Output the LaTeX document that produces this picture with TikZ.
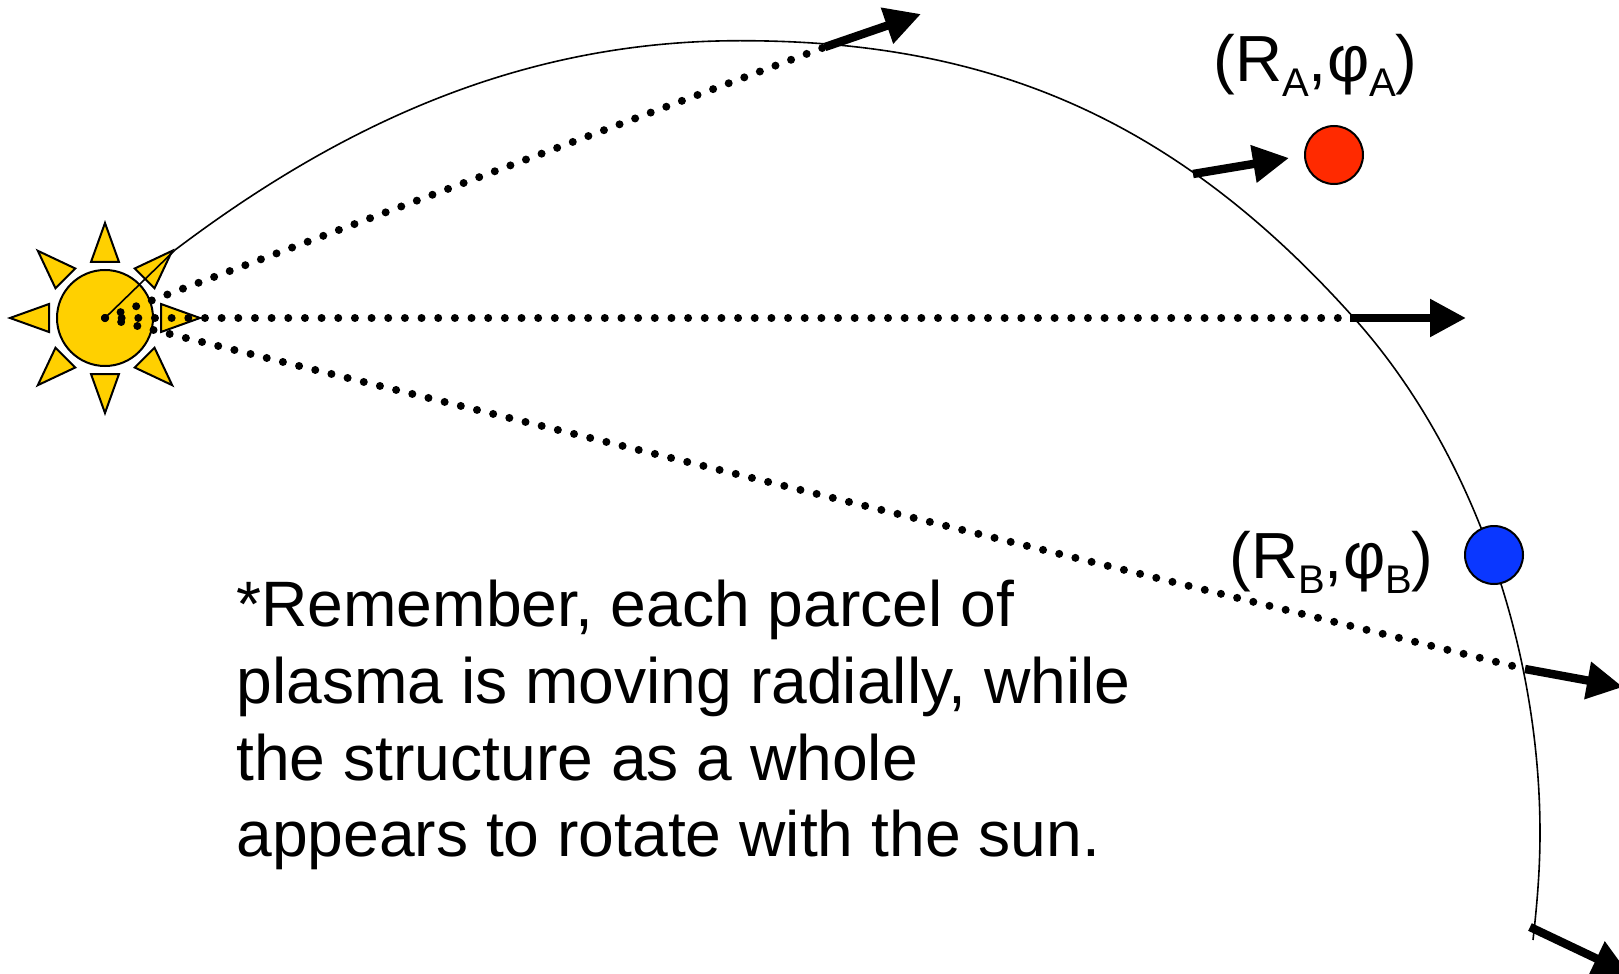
\documentclass[tikz,border=0pt]{standalone}
\usepackage{fontspec}
\setmainfont{Liberation Sans}
\usetikzlibrary{arrows.meta}
\definecolor{suncolor}{RGB}{255,208,0}
\definecolor{redcolor}{RGB}{255,42,0}
\definecolor{bluecolor}{RGB}{10,55,255}
\newcommand{\lblsub}[1]{\raisebox{-7.5pt}{\fontsize{20}{20}\selectfont #1}}
\tikzset{
  sundisc/.style={circle,draw,line width=1pt,fill=suncolor,minimum size=48pt,inner sep=0pt},
  sunray/.style={draw,line width=1pt,fill=suncolor,line join=miter},
  parcel/.style={circle,draw,line width=1pt,minimum size=29pt,inner sep=0pt},
  radial/.style={line width=4pt,line cap=round,dash pattern=on 0pt off 8.33pt},
  velocity/.style={line width=4.2pt,-{Triangle[length=18pt,width=18pt]}},
  coordlabel/.style={anchor=base west,inner sep=0pt,font=\fontsize{32.6}{38}\selectfont},
}
\begin{document}
\begin{tikzpicture}[x=0.5pt,y=-0.5pt]
  \useasboundingbox (0,0) rectangle (1619,974);
  % sun with eight rays
  \foreach \a in {0,45,...,315}
    \draw[sunray,shift={(105,318)},rotate=\a] (95,0) -- (56,-14) -- (56,14) -- cycle;
  \node[sundisc] (sun) at (105,318) {};
  % the streamline
  \draw[line width=0.8pt] (sun.center) -- (175,250) .. controls (360,110) and (540,40.7) .. (740,40.7)
    .. controls (980,40.7) and (1169,111) .. (1354,318)
    .. controls (1474,452) and (1540,650) .. (1540,833)
    .. controls (1540,870) and (1537,905) .. (1533,940);
  % feet and tips of the velocity arrows
  \coordinate (footup) at (825,47);
  \coordinate (tipup) at (921,14);
  \coordinate (foota) at (1193,174);
  \coordinate (tipa) at (1289,158);
  \coordinate (footmid) at (1350,318);
  \coordinate (tipmid) at (1466,318);
  \coordinate (footb) at (1525,669);
  \coordinate (tipb) at (1623,687);
  \coordinate (footlow) at (1530,927);
  \coordinate (tiplow) at (1629,974);
  % dotted radial lines
  \draw[radial] (sun.center) -- (footup);
  \draw[radial] (sun.center) -- (footmid);
  \draw[radial] (sun.center) -- (footb);
  \foreach \f/\t in {footup/tipup,foota/tipa,footmid/tipmid,footb/tipb,footlow/tiplow}
    \draw[velocity] (\f) -- (\t);
  % the two parcels
  \node[parcel,fill=redcolor] (parcela) at (1334,155) {};
  \node[parcel,fill=bluecolor] (parcelb) at (1494,555) {};
  \node[coordlabel] (labela) at (1213,82) {(R\lblsub{A},φ\lblsub{A})};
  \node[coordlabel] (labelb) at (1229,578) {(R\lblsub{B},φ\lblsub{B})};
  % note
  \node[anchor=north west,inner sep=0pt,align=left,font=\fontsize{32.1}{38.3}\selectfont] (note) at (236,580)
    {*Remember, each parcel of\\plasma is moving radially, while\\the structure as a whole\\appears to rotate with the sun.};
\end{tikzpicture}
\end{document}
